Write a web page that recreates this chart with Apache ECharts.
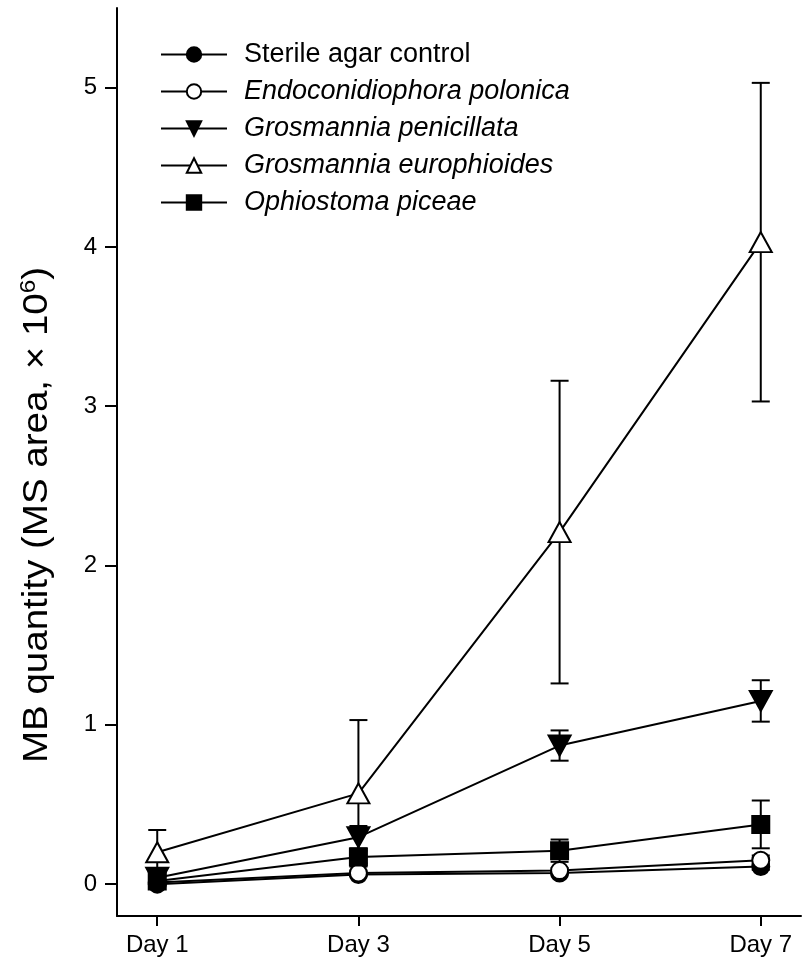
<!DOCTYPE html>
<html>
<head>
<meta charset="utf-8">
<script src="https://cdn.jsdelivr.net/npm/echarts@6/dist/echarts.min.js"></script>
<style>
html,body{margin:0;padding:0;background:#fff;}
#chart{width:802px;height:976px;}
</style>
</head>
<body>
<div id="chart"></div>
<script>
// ---- data ----
const days = [1, 3, 5, 7];
const dayLabels = ['Day 1', 'Day 3', 'Day 5', 'Day 7'];
const yTicks = [0, 1, 2, 3, 4, 5];
const seriesNames = ['Sterile agar control', 'Endoconidiophora polonica', 'Grosmannia penicillata', 'Grosmannia europhioides', 'Ophiostoma piceae'];
const controlMean = [0.0, 0.06, 0.07, 0.11];
const controlErr = [0.01, 0.01, 0.01, 0.02];
const polonicaMean = [0.01, 0.07, 0.085, 0.15];
const polonicaErr = [0.01, 0.015, 0.015, 0.03];
const penicillataMean = [0.04, 0.295, 0.87, 1.15];
const penicillataErr = [0.02, 0.07, 0.095, 0.13];
const europhioidesMean = [0.2, 0.57, 2.21, 4.03];
const europhioidesErr = [0.14, 0.46, 0.95, 1.0];
const piceaeMean = [0.02, 0.17, 0.21, 0.375];
const piceaeErr = [0.02, 0.04, 0.07, 0.15];

const means = [controlMean, polonicaMean, penicillataMean, europhioidesMean, piceaeMean];
const errs = [controlErr, polonicaErr, penicillataErr, europhioidesErr, piceaeErr];
const symbols = ['circle', 'circle', 'triangle', 'triangle', 'rect'];
const fills = ['#000', '#fff', '#000', '#fff', '#000'];
const rotates = [0, 0, 180, 0, 0];
const sizes = [17, 17, [22, 20], [22, 20], 17];
const italic = [false, true, true, true, true];

const FONT = 'Liberation Sans, Arial, sans-serif';
const chart = echarts.init(document.getElementById('chart'));
const series = [];
// error bars
means.forEach((m, si) => {
  series.push({
    type: 'custom',
    name: seriesNames[si] + ' err',
    z: 1,
    silent: true,
    data: days.map((d, i) => [d, m[i] - errs[si][i], m[i] + errs[si][i]]),
    renderItem: function (params, api) {
      const lo = api.coord([api.value(0), api.value(1)]);
      const hi = api.coord([api.value(0), api.value(2)]);
      const hw = 9;
      const st = { stroke: '#000', lineWidth: 2, fill: null };
      return {
        type: 'group',
        children: [
          { type: 'line', shape: { x1: lo[0], y1: lo[1], x2: hi[0], y2: hi[1] }, style: st },
          { type: 'line', shape: { x1: lo[0] - hw, y1: lo[1], x2: lo[0] + hw, y2: lo[1] }, style: st },
          { type: 'line', shape: { x1: hi[0] - hw, y1: hi[1], x2: hi[0] + hw, y2: hi[1] }, style: st }
        ]
      };
    }
  });
});
means.forEach((m, si) => {
  series.push({
    type: 'line',
    name: seriesNames[si],
    z: 3,
    data: days.map((d, i) => [d, m[i]]),
    symbol: symbols[si],
    symbolSize: sizes[si],
    symbolRotate: rotates[si],
    showAllSymbol: true,
    lineStyle: { color: '#000', width: 2 },
    itemStyle: { color: fills[si], borderColor: '#000', borderWidth: 2 },
    emphasis: { disabled: true },
    animation: false
  });
});

chart.setOption({
  animation: false,
  backgroundColor: '#fff',
  grid: { left: 117, right: 1, top: 8, bottom: 60, containLabel: false },
  legend: {
    orient: 'vertical',
    left: 155,
    top: 36,
    itemWidth: 66,
    itemHeight: 18,
    itemGap: 10,
    selectedMode: false,
    data: seriesNames.map((n, i) => ({
      name: n,
      textStyle: { fontStyle: italic[i] ? 'italic' : 'normal' }
    })),
    textStyle: { fontFamily: FONT, fontSize: 27, color: '#000', lineHeight: 27, padding: [0, 0, 0, 12] }
  },
  xAxis: {
    type: 'value',
    min: 0.6,
    max: 7.4,
    splitLine: { show: false },
    axisLine: { show: true, onZero: false, lineStyle: { color: '#000', width: 2 } },
    axisTick: { show: true, length: 10, customValues: days, lineStyle: { color: '#000', width: 2 } },
    axisLabel: {
      customValues: days,
      formatter: v => dayLabels[days.indexOf(v)],
      fontFamily: FONT, fontSize: 24, color: '#000', margin: 17
    }
  },
  yAxis: {
    type: 'value',
    min: -0.2,
    max: 5.5,
    splitLine: { show: false },
    axisLine: { show: true, onZero: false, lineStyle: { color: '#000', width: 2 } },
    axisTick: { show: true, length: 12, customValues: yTicks, lineStyle: { color: '#000', width: 2 } },
    axisLabel: {
      customValues: yTicks,
      fontFamily: FONT, fontSize: 24, color: '#000', margin: 20
    }
  },
  graphic: [{
    type: 'text',
    x: 37,
    y: 515,
    rotation: Math.PI / 2,
    scaleX: 1.1,
    style: {
      text: 'MB quantity (MS area, × 10{sup|6})',
      fontFamily: FONT,
      fontSize: 35,
      fill: '#000',
      align: 'center',
      verticalAlign: 'middle',
      rich: {
        sup: { fontSize: 22, verticalAlign: 'top', padding: [0, 0, 16, 0], fontFamily: FONT }
      }
    }
  }],
  series: series
});
</script>
</body>
</html>
